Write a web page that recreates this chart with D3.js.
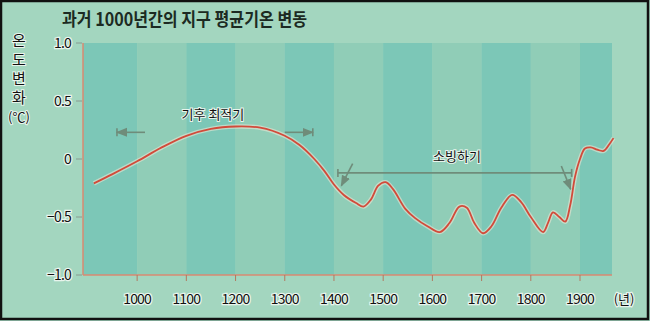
<!DOCTYPE html>
<html>
<head>
<meta charset="utf-8">
<script src="https://cdn.jsdelivr.net/npm/d3@7"></script>
<style>
  body { margin: 0; background: #a3d6bf; }
  svg { display: block; }
</style>
</head>
<body>
<script>
// chart data
const years = [912, 950, 1000, 1050, 1100, 1150, 1200, 1250, 1300, 1330, 1360, 1380, 1400, 1420, 1445, 1460, 1475, 1490, 1505, 1520, 1545, 1565, 1590, 1615, 1635, 1655, 1670, 1685, 1703, 1720, 1740, 1762, 1780, 1800, 1825, 1835, 1845, 1858, 1870, 1880, 1890, 1900, 1910, 1922, 1935, 1948, 1960, 1968];
const temps = [-0.21, -0.13, -0.02, 0.1, 0.2, 0.26, 0.28, 0.27, 0.2, 0.12, 0.0, -0.1, -0.22, -0.31, -0.38, -0.41, -0.35, -0.23, -0.2, -0.26, -0.43, -0.51, -0.58, -0.63, -0.55, -0.41, -0.42, -0.55, -0.64, -0.58, -0.42, -0.31, -0.37, -0.5, -0.63, -0.55, -0.46, -0.5, -0.54, -0.4, -0.15, 0.0, 0.09, 0.1, 0.08, 0.07, 0.13, 0.18];
const xTicks = [1000, 1100, 1200, 1300, 1400, 1500, 1600, 1700, 1800, 1900];
const yTicks = [1.0, 0.5, 0, -0.5, -1.0];
const yTickLabels = ['1.0', '0.5', '0', '\u22120.5', '\u22121.0'];
const title = '과거 1000년간의 지구 평균기온 변동';
const yTitle = ['온', '도', '변', '화', '(℃)'];

let svgWidth = 650;
let svgHeight = 321;

let svg = d3.select('body')
  .append('svg')
  .attr('width', svgWidth)
  .attr('height', svgHeight);

const font = "'Noto Sans CJK KR', 'Noto Sans', sans-serif";

// background
svg.append('rect')
  .attr('width', svgWidth).attr('height', svgHeight)
  .attr('fill', '#a3d6bf');

let xScale = d3.scaleLinear().domain([890, 1965]).range([83, 612]);
let yScale = d3.scaleLinear().domain([-1, 1]).range([275, 43]);

// vertical stripes, one per century
let bounds = [890].concat(xTicks, [1965]);
let stripes = d3.pairs(bounds);
svg.append('g').selectAll('rect')
  .data(stripes)
  .enter()
  .append('rect')
  .attr('x', d => xScale(d[0]))
  .attr('y', yScale(1))
  .attr('width', d => xScale(d[1]) - xScale(d[0]))
  .attr('height', yScale(-1) - yScale(1))
  .attr('fill', (d, i) => i % 2 === 0 ? '#7cc7b7' : '#90cdb7');

// axes lines
svg.append('line')
  .attr('x1', xScale(890)).attr('x2', xScale(890))
  .attr('y1', yScale(1)).attr('y2', yScale(-1))
  .attr('stroke', '#d98a72').attr('stroke-width', 1.5);
svg.append('line')
  .attr('x1', xScale(890)).attr('x2', xScale(1965))
  .attr('y1', yScale(-1)).attr('y2', yScale(-1))
  .attr('stroke', '#d98a72').attr('stroke-width', 1.5);

// y ticks
svg.append('g').selectAll('line')
  .data(yTicks)
  .enter()
  .append('line')
  .attr('x1', 76).attr('x2', 82)
  .attr('y1', d => yScale(d)).attr('y2', d => yScale(d))
  .attr('stroke', '#8a9a90').attr('stroke-width', 1);

svg.append('g').selectAll('text')
  .data(yTicks)
  .enter()
  .append('text')
  .attr('x', 71)
  .attr('y', d => yScale(d) + 5)
  .attr('text-anchor', 'end')
  .style('font', `14px ${font}`)
  .attr('letter-spacing', -0.8)
  .attr('fill', '#111')
  .attr('stroke', '#e8f4ec').attr('stroke-width', 2.5).attr('paint-order', 'stroke')
  .text((d, i) => yTickLabels[i]);

// x ticks
svg.append('g').selectAll('line')
  .data(xTicks)
  .enter()
  .append('line')
  .attr('x1', d => xScale(d)).attr('x2', d => xScale(d))
  .attr('y1', yScale(-1)).attr('y2', yScale(-1) + 6)
  .attr('stroke', '#b07a60').attr('stroke-width', 1);

svg.append('g').selectAll('text')
  .data(xTicks)
  .enter()
  .append('text')
  .attr('x', d => xScale(d))
  .attr('y', 304)
  .attr('text-anchor', 'middle')
  .style('font', `14px ${font}`)
  .attr('letter-spacing', -0.8)
  .attr('fill', '#111')
  .attr('stroke', '#e8f4ec').attr('stroke-width', 2.5).attr('paint-order', 'stroke')
  .text(d => d);

svg.append('text')
  .attr('x', 624).attr('y', 304)
  .attr('text-anchor', 'middle')
  .style('font', `13px ${font}`)
  .attr('fill', '#111')
  .attr('stroke', '#e8f4ec').attr('stroke-width', 2.5).attr('paint-order', 'stroke')
  .text('(년)');

// title
svg.append('text')
  .attr('x', 62).attr('y', 26)
  .style('font', `bold 18px ${font}`)
  .attr('textLength', 245)
  .attr('lengthAdjust', 'spacingAndGlyphs')
  .attr('fill', '#1c2a22')
  .text(title);

// vertical y title
svg.append('g').selectAll('text')
  .data(yTitle)
  .enter()
  .append('text')
  .attr('x', 19)
  .attr('y', (d, i) => 46 + i * 19)
  .attr('text-anchor', 'middle')
  .style('font', (d, i) => i < 4 ? `15px ${font}` : `13px ${font}`)
  .attr('fill', '#111')
  .attr('stroke', '#e8f4ec').attr('stroke-width', 2).attr('paint-order', 'stroke')
  .text(d => d);

// temperature line
let data = years.map((y, i) => ({ year: y, temp: temps[i] }));
let createLine = d3.line()
  .x(d => xScale(d.year))
  .y(d => yScale(d.temp))
  .curve(d3.curveCatmullRom.alpha(0.5));

svg.append('path')
  .attr('d', createLine(data))
  .attr('fill', 'none')
  .attr('stroke', '#f3e8d6').attr('stroke-opacity', 0.55)
  .attr('stroke-width', 4.5);
svg.append('path')
  .attr('d', createLine(data))
  .attr('fill', 'none')
  .attr('stroke', '#d24a3a')
  .attr('stroke-width', 1.8);

// annotations
const annColor = '#6f8c7a';
let defs = svg.append('defs');
defs.append('marker')
  .attr('id', 'arr')
  .attr('viewBox', '0 0 10 10')
  .attr('refX', 9).attr('refY', 5)
  .attr('markerWidth', 7).attr('markerHeight', 7)
  .attr('orient', 'auto-start-reverse')
  .append('path')
  .attr('d', 'M0,1 L10,5 L0,9 Z')
  .attr('fill', annColor);

let ann = svg.append('g')
  .attr('stroke', annColor)
  .attr('stroke-width', 1.6)
  .attr('fill', 'none');

// 기후 최적기 arrows
ann.append('line')
  .attr('x1', xScale(1016)).attr('y1', yScale(0.23))
  .attr('x2', xScale(959)).attr('y2', yScale(0.23))
  .attr('marker-end', 'url(#arr)');
ann.append('line')
  .attr('x1', xScale(959)).attr('y1', yScale(0.23) - 4)
  .attr('x2', xScale(959)).attr('y2', yScale(0.23) + 4);
ann.append('line')
  .attr('x1', xScale(1300)).attr('y1', yScale(0.23))
  .attr('x2', xScale(1357)).attr('y2', yScale(0.23))
  .attr('marker-end', 'url(#arr)');
ann.append('line')
  .attr('x1', xScale(1357)).attr('y1', yScale(0.23) - 4)
  .attr('x2', xScale(1357)).attr('y2', yScale(0.23) + 4);

// 소빙하기 bracket
ann.append('line')
  .attr('x1', xScale(1408)).attr('y1', yScale(-0.12))
  .attr('x2', xScale(1883)).attr('y2', yScale(-0.12));
ann.append('line')
  .attr('x1', xScale(1408)).attr('y1', yScale(-0.12) - 4)
  .attr('x2', xScale(1408)).attr('y2', yScale(-0.12) + 4);
ann.append('line')
  .attr('x1', xScale(1883)).attr('y1', yScale(-0.12) - 4)
  .attr('x2', xScale(1883)).attr('y2', yScale(-0.12) + 4);
ann.append('line')
  .attr('x1', xScale(1438)).attr('y1', yScale(-0.04))
  .attr('x2', xScale(1415)).attr('y2', yScale(-0.23))
  .attr('marker-end', 'url(#arr)');
ann.append('line')
  .attr('x1', xScale(1862)).attr('y1', yScale(-0.06))
  .attr('x2', xScale(1881)).attr('y2', yScale(-0.26))
  .attr('marker-end', 'url(#arr)');

svg.append('text')
  .attr('x', xScale(1154)).attr('y', yScale(0.39) + 5)
  .attr('text-anchor', 'middle')
  .style('font', `13px ${font}`)
  .attr('fill', '#111')
  .attr('stroke', '#e8f4ec').attr('stroke-width', 2).attr('paint-order', 'stroke')
  .text('기후 최적기');

svg.append('text')
  .attr('x', xScale(1650)).attr('y', yScale(0.03) + 5)
  .attr('text-anchor', 'middle')
  .style('font', `13px ${font}`)
  .attr('fill', '#111')
  .attr('stroke', '#e8f4ec').attr('stroke-width', 2).attr('paint-order', 'stroke')
  .text('소빙하기');

// outer frame
svg.append('rect')
  .attr('x', 1).attr('y', 1)
  .attr('width', svgWidth - 3).attr('height', svgHeight - 3)
  .attr('fill', 'none')
  .attr('stroke', '#111').attr('stroke-width', 2.5);
</script>
</body>
</html>
